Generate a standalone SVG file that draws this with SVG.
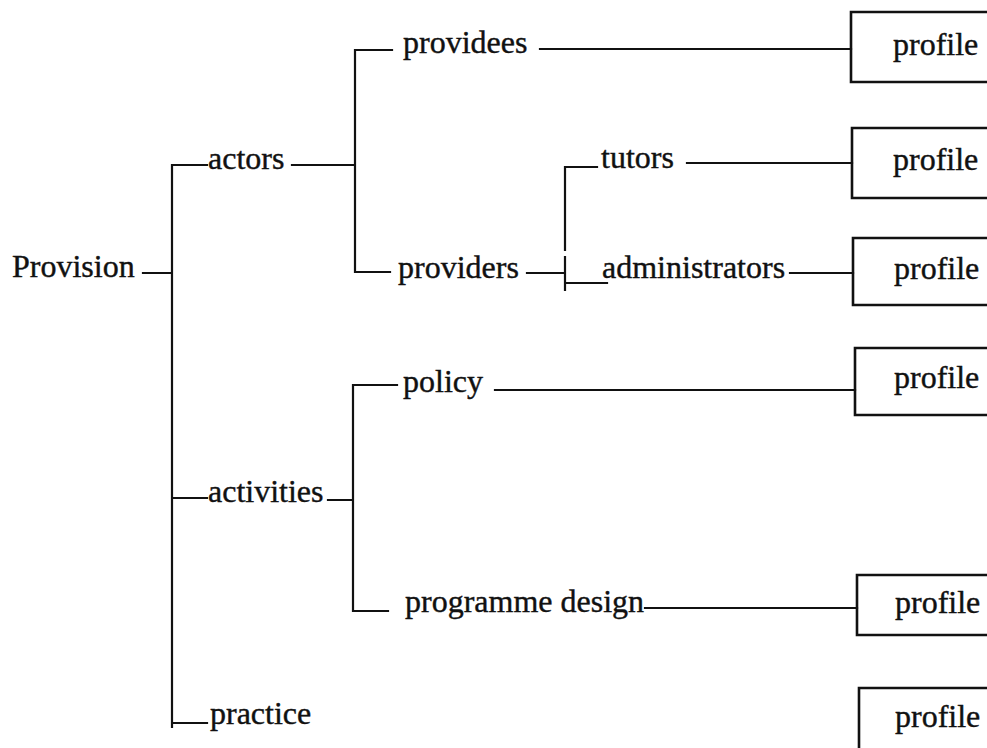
<svg xmlns="http://www.w3.org/2000/svg" width="987" height="748" viewBox="0 0 987 748">
<style>
text{font-family:"Liberation Serif","Times New Roman",serif;font-size:32px;fill:#111;stroke:#111;stroke-width:0.4}
.c{stroke:#111;stroke-width:2.2;fill:none;stroke-linecap:square}
.b{stroke:#111;stroke-width:2.6;fill:none}
</style>
<rect width="987" height="748" fill="#fff"/>
<g id="connectors" class="c">
<path d="M143 273H172M172 165V727M172 165H207M172 498H207M172 723H207"/>
<path d="M292 165H355M355 50V272M355 50H392M355 272H390"/>
<path d="M540 49H851"/>
<path d="M527 273H565M565 167V250M565 257V290M565 167H597M565 283H607"/>
<path d="M687 163H852M790 273H853"/>
<path d="M328 500H353M353 385V611M353 385H397M353 611H388"/>
<path d="M495 390H855M645 608H857"/>
</g>
<g id="provision"><text x="12" y="277">Provision</text></g>
<g id="actors"><text x="208" y="169">actors</text></g>
<g id="activities"><text x="208" y="502">activities</text></g>
<g id="practice"><text x="210" y="724">practice</text></g>
<g id="providees"><text x="403" y="53">providees</text></g>
<g id="providers"><text x="398" y="278">providers</text></g>
<g id="tutors"><text x="601" y="168">tutors</text></g>
<g id="administrators"><text x="602" y="278">administrators</text></g>
<g id="policy"><text x="403" y="392">policy</text></g>
<g id="programme-design"><text x="405" y="612">programme design</text></g>
<g id="profile1"><path class="b" d="M990 12H851V82H990"/><text x="893" y="55">profile</text></g>
<g id="profile2"><path class="b" d="M990 128H852V198H990"/><text x="893" y="170">profile</text></g>
<g id="profile3"><path class="b" d="M990 238H853V305H990"/><text x="894" y="279">profile</text></g>
<g id="profile4"><path class="b" d="M990 348H855V415H990"/><text x="894" y="388">profile</text></g>
<g id="profile5"><path class="b" d="M990 575H857V635H990"/><text x="895" y="613">profile</text></g>
<g id="profile6"><path class="b" d="M990 688H859V752"/><text x="895" y="727">profile</text></g>
</svg>
